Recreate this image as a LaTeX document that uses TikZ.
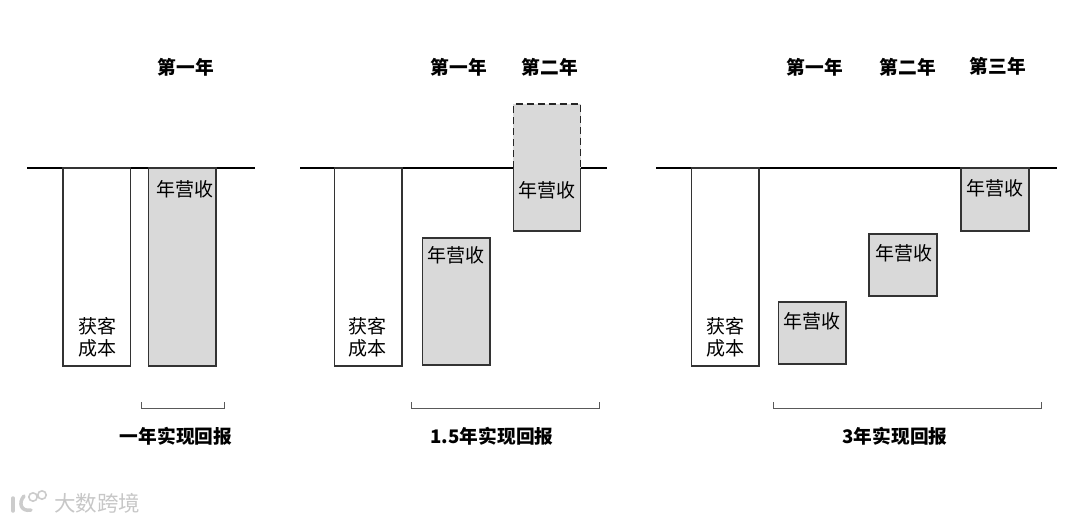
\documentclass[tikz,border=0pt]{standalone}
\usepackage{fontspec}
\newfontfamily\cjk{Noto Sans CJK SC}
\tikzset{
  axisline/.style={line width=1.4pt,draw=black},
  costbox/.style={line width=1.1pt,draw=black!80,fill=white},
  revbox/.style={line width=1.1pt,draw=black!80,fill=black!15},
  bracket/.style={line width=0.8pt,draw=black!65},
  yearlabel/.style={anchor=center,inner sep=0pt,font=\cjk\bfseries\fontsize{18.7}{22}\selectfont},
  paylabel/.style={anchor=center,inner sep=0pt,font=\cjk\bfseries\fontsize{18.7}{22}\selectfont},
  boxlabel/.style={anchor=center,inner sep=0pt,font=\cjk\fontsize{19}{23}\selectfont,text=black},
  costlabel/.style={anchor=center,inner sep=0pt,align=center,font=\cjk\fontsize{19}{23}\selectfont,text=black},
  marklabel/.style={anchor=west,inner sep=0pt,font=\cjk\fontsize{21.5}{25}\selectfont,text=black!22},
}
\begin{document}
\begin{tikzpicture}[x=1pt, y=-1pt, line join=miter]

  %% left panel
  \draw[axisline] (27,168) -- (255,168);
  \draw[costbox] (63,168) rectangle (130.5,366);
  \draw[revbox] (148.5,168) rectangle (216,366);
  \draw[bracket] (141,402) -- (141,408) -- (224,408) -- (224,402);
  \node[yearlabel] (yearA) at (186,67) {第一年};
  \node[boxlabel] (revA) at (185,189) {年营收};
  \node[costlabel] (costA) at (97,337.5) {获客\\[-1pt]成本};
  \node[paylabel] (payA) at (176,436) {一年实现回报};

  %% middle panel
  \draw[axisline] (300,168) -- (607,168);
  \draw[costbox] (334.5,168) rectangle (402,366);
  \draw[revbox] (422.5,238) rectangle (490,365);
  \fill[black!15] (513,104) rectangle (581,168);
  \draw[line width=1.1pt,draw=black!85,dash pattern=on 7pt off 4pt] (513.5,168) -- (513.5,104) -- (580.5,104) -- (580.5,168);
  \draw[revbox] (513.5,168) -- (513.5,231) -- (580.5,231) -- (580.5,168);
  \fill[black!15] (514.1,167) rectangle (579.9,169.5);
  \node[yearlabel] (yearB) at (459,67) {第一年};
  \node[yearlabel] (yearC) at (550,67) {第二年};
  \node[boxlabel] (revB) at (456,255) {年营收};
  \node[boxlabel] (revC) at (547,190) {年营收};
  \node[costlabel] (costB) at (367,337.5) {获客\\[-1pt]成本};
  \node[paylabel] (payB) at (492,436) {1.5年实现回报};
  \draw[bracket] (411,402) -- (411,408) -- (599,408) -- (599,402);

  %% right panel
  \draw[axisline] (656,168) -- (1057,168);
  \draw[costbox] (691.5,168) rectangle (759,366);
  \draw[revbox] (778.5,302) rectangle (846,364);
  \draw[revbox] (869,234) rectangle (937,296);
  \draw[revbox] (961,168) rectangle (1029,231);
  \node[yearlabel] (yearD) at (815,67) {第一年};
  \node[yearlabel] (yearE) at (908,67) {第二年};
  \node[yearlabel] (yearF) at (998,66) {第三年};
  \node[boxlabel] (revD) at (812,321) {年营收};
  \node[boxlabel] (revE) at (904,253) {年营收};
  \node[boxlabel] (revF) at (995,188) {年营收};
  \node[costlabel] (costC) at (725,337.5) {获客\\[-1pt]成本};
  \node[paylabel] (payC) at (895,436) {3年实现回报};
  \draw[bracket] (773,402) -- (773,408) -- (1041,408) -- (1041,402);

  %% watermark
  \draw[line width=3.5pt,draw=black!20,line cap=round] (13,498) -- (13,511);
  \draw[line width=3.5pt,draw=black!20,line cap=round] (24,496) .. controls (18,503) and (21,512) .. (31,510);
  \draw[line width=1.6pt,draw=black!20] (33,497) circle (4.2);
  \draw[line width=1.6pt,draw=black!20] (42,495) circle (4.2);
  \node[marklabel] (markA) at (54,503) {大数跨境};

  % canvas
  \pgfresetboundingbox
  \path[use as bounding box] (0,0) rectangle (1080,523);
\end{tikzpicture}
\end{document}
